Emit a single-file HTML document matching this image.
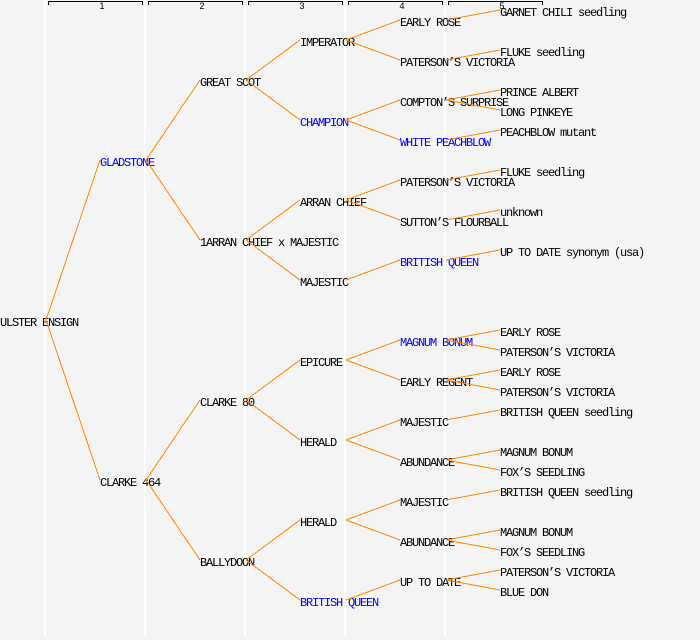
<!DOCTYPE html>
<html><head><meta charset="utf-8"><style>
html,body{margin:0;padding:0;background:#f4f4f4;width:700px;height:640px;overflow:hidden}
svg{display:block}
.t{font-family:"Liberation Mono",monospace;font-size:12px;letter-spacing:-1.2px;fill:#000}
.b{fill:#0000ff}
.h{font-family:"Liberation Sans",sans-serif;font-size:9px;fill:#000;text-anchor:middle}
</style></head><body>
<svg width="700" height="640" viewBox="0 0 700 640" xmlns="http://www.w3.org/2000/svg">
<rect width="700" height="640" fill="#f4f4f4"/>
<g fill="#ffffff">
<rect x="44" y="0" width="2" height="637"/>
<rect x="144" y="0" width="2" height="637"/>
<rect x="244" y="0" width="2" height="637"/>
<rect x="344" y="0" width="2" height="637"/>
<rect x="444" y="0" width="2" height="637"/>
</g>
<g fill="none" stroke="#000" stroke-width="1" shape-rendering="crispEdges">
<path d="M48.5,5 V1.5 H142.5 V5"/>
<path d="M148.5,5 V1.5 H242.5 V5"/>
<path d="M248.5,5 V1.5 H342.5 V5"/>
<path d="M348.5,5 V1.5 H442.5 V5"/>
<path d="M448.5,5 V1.5 H542.5 V5"/>
</g>
<text class="h" x="102" y="9">1</text>
<text class="h" x="202" y="9">2</text>
<text class="h" x="302" y="9">3</text>
<text class="h" x="402" y="9">4</text>
<text class="h" x="502" y="9">5</text>

<g class="t">
<text x="0" y="326">ULSTER ENSIGN</text>
<text x="100" y="166" class="t b">GLADSTONE</text>
<text x="100" y="486">CLARKE 464</text>
<text x="200" y="86">GREAT SCOT</text>
<text x="200" y="246">1ARRAN CHIEF x MAJESTIC</text>
<text x="200" y="406">CLARKE 80</text>
<text x="200" y="566">BALLYDOON</text>
<text x="300" y="46">IMPERATOR</text>
<text x="300" y="126" class="t b">CHAMPION</text>
<text x="300" y="206">ARRAN CHIEF</text>
<text x="300" y="286">MAJESTIC</text>
<text x="300" y="366">EPICURE</text>
<text x="300" y="446">HERALD</text>
<text x="300" y="526">HERALD</text>
<text x="300" y="606" class="t b">BRITISH QUEEN</text>
<text x="400" y="26">EARLY ROSE</text>
<text x="400" y="66">PATERSON’S VICTORIA</text>
<text x="400" y="106">COMPTON’S SURPRISE</text>
<text x="400" y="146" class="t b">WHITE PEACHBLOW</text>
<text x="400" y="186">PATERSON’S VICTORIA</text>
<text x="400" y="226">SUTTON’S FLOURBALL</text>
<text x="400" y="266" class="t b">BRITISH QUEEN</text>
<text x="400" y="346" class="t b">MAGNUM BONUM</text>
<text x="400" y="386">EARLY REGENT</text>
<text x="400" y="426">MAJESTIC</text>
<text x="400" y="466">ABUNDANCE</text>
<text x="400" y="506">MAJESTIC</text>
<text x="400" y="546">ABUNDANCE</text>
<text x="400" y="586">UP TO DATE</text>
<text x="500" y="16">GARNET CHILI seedling</text>
<text x="500" y="56">FLUKE seedling</text>
<text x="500" y="96">PRINCE ALBERT</text>
<text x="500" y="116">LONG PINKEYE</text>
<text x="500" y="136">PEACHBLOW mutant</text>
<text x="500" y="176">FLUKE seedling</text>
<text x="500" y="216">unknown</text>
<text x="500" y="256">UP TO DATE synonym (usa)</text>
<text x="500" y="336">EARLY ROSE</text>
<text x="500" y="356">PATERSON’S VICTORIA</text>
<text x="500" y="376">EARLY ROSE</text>
<text x="500" y="396">PATERSON’S VICTORIA</text>
<text x="500" y="416">BRITISH QUEEN seedling</text>
<text x="500" y="456">MAGNUM BONUM</text>
<text x="500" y="476">FOX’S SEEDLING</text>
<text x="500" y="496">BRITISH QUEEN seedling</text>
<text x="500" y="536">MAGNUM BONUM</text>
<text x="500" y="556">FOX’S SEEDLING</text>
<text x="500" y="576">PATERSON’S VICTORIA</text>
<text x="500" y="596">BLUE DON</text>
</g>

<path fill="none" stroke="#ff8800" stroke-width="1" shape-rendering="crispEdges" d="
M46,320 L100,160 M46,320 L100,480
M146,160 L200,80 M146,160 L200,240
M146,480 L200,400 M146,480 L200,560
M246,80 L300,40 M246,80 L300,120
M246,240 L300,200 M246,240 L300,280
M246,400 L300,360 M246,400 L300,440
M246,560 L300,520 M246,560 L300,600
M346,40 L400,20 M346,40 L400,60
M346,120 L400,100 M346,120 L400,140
M346,200 L400,180 M346,200 L400,220
M346,280 L400,260
M346,360 L400,340 M346,360 L400,380
M346,440 L400,420 M346,440 L400,460
M346,520 L400,500 M346,520 L400,540
M346,600 L400,580
M446,20 L500,10
M446,60 L500,50
M446,100 L500,90 M446,100 L500,110
M446,140 L500,130
M446,180 L500,170
M446,220 L500,210
M446,260 L500,250
M446,340 L500,330 M446,340 L500,350
M446,380 L500,370 M446,380 L500,390
M446,420 L500,410
M446,460 L500,450 M446,460 L500,470
M446,500 L500,490
M446,540 L500,530 M446,540 L500,550
M446,580 L500,570 M446,580 L500,590"/>
</svg>
</body></html>
